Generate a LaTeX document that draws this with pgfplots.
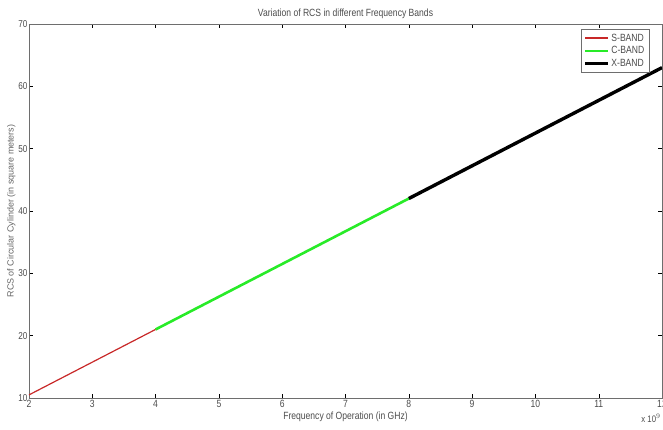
\documentclass[border=0pt]{standalone}
\usepackage{fontspec}
\setmainfont[FakeStretch=0.82]{Liberation Sans}
\newfontfamily\ylfont{Liberation Sans}
\usepackage{pgfplots}
\pgfplotsset{compat=1.18}

\definecolor{sband}{RGB}{200,40,40}
\definecolor{cband}{RGB}{40,235,40}
\definecolor{axgray}{RGB}{110,110,110}

\newcommand{\mfont}{\fontsize{10.5}{11}\selectfont}

\begin{document}
\begin{tikzpicture}
  \begin{axis}[
    scale only axis,
    width=633bp, height=374bp,
    xmin=2, xmax=12,
    ymin=10, ymax=70,
    xtick={2,3,...,12},
    ytick={10,20,...,70},
    /pgf/number format/assume math mode=true,
    tick align=inside,
    major tick length=4bp,
    axis line style={axgray},
    every tick/.style={black},
    tick label style={font=\mfont, text=black!70},
    yticklabel style={font=\fontsize{10}{11}\selectfont, xshift=2bp},
    label style={font=\mfont, text=black!70},
    title style={font=\mfont, text=black!70, yshift=-4bp},
    xticklabel style={yshift=1bp},
    xlabel={Frequency of Operation (in GHz)},
    ylabel={RCS of Circular Cylinder (in square meters)},
    xlabel style={yshift=3bp},
    ylabel style={font=\ylfont\fontsize{9}{10}\selectfont, text=black!60, yshift=-4bp},
    title={Variation of RCS in different Frequency Bands},
    legend cell align=left,
    legend style={at={(rel axis cs:1,1)}, anchor=north east,
      xshift=-13bp, yshift=-5bp, draw=axgray,
      font=\mfont, text=black!70,
      inner sep=2.5bp, row sep=0bp},
    legend image code/.code={\draw[#1] (0cm,0cm) -- (0.8cm,0cm);},
  ]
  % S-BAND
  \addplot[sband, line width=1.2bp] coordinates {
    (2, 10.5) (3, 15.75) (4, 21.0)
  };
  \addlegendentry{S-BAND}
  % C-BAND
  \addplot[cband, line width=2.6bp] coordinates {
    (4, 21.0) (6, 31.5) (8, 42.0)
  };
  \addlegendentry{C-BAND}
  % X-BAND
  \addplot[black, line width=3.4bp] coordinates {
    (8, 42.0) (10, 52.5) (12, 63.0)
  };
  \addlegendentry{X-BAND}
  \end{axis}
  \node[font=\fontsize{9.5}{10}\selectfont, text=black!70] at (622bp,-20bp) {x 10$^{9}$};
  \pgfresetboundingbox
  \path[use as bounding box] (-29bp,-32bp) rectangle (634bp,398bp);
\end{tikzpicture}
\end{document}
